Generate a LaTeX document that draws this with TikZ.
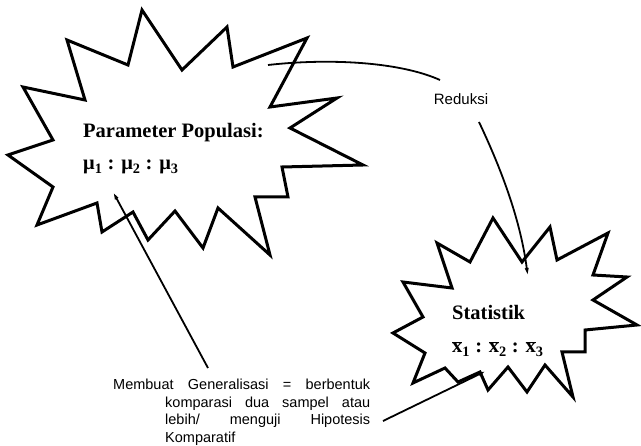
\documentclass[tikz,border=0pt]{standalone}
\usepackage{fontspec}
\setmainfont{Liberation Serif}
\setsansfont{Liberation Sans}
\usetikzlibrary{arrows.meta}
\begin{document}
\begin{tikzpicture}[x=1pt,y=-1pt,
  starline/.style={draw=black,line width=3pt,line join=miter},
  conn/.style={draw=black,line width=1.8pt},
  tip/.style={-{Latex[length=10pt,width=4pt]}},
  serifbig/.style={font=\bfseries\fontsize{20.5}{24}\selectfont,inner sep=0pt,anchor=base west},
  sanslbl/.style={font=\sffamily\fontsize{15}{18}\selectfont,inner sep=0pt}]
\useasboundingbox[fill=white] (0,0) rectangle (641,446);
% big star
\draw[starline] (142,10) -- (182,70) -- (227,27) -- (233,67) -- (307,38) -- (270,107) -- (337,98) -- (290,128) -- (363,165) -- (282,167) -- (288,197) -- (255,197) -- (270,255) -- (218,208) -- (203,248) -- (175,211) -- (148,240) -- (133,212) -- (102,232) -- (97,203) -- (37,225) -- (53,187) -- (8,155) -- (53,140) -- (23,87) -- (85,100) -- (67,40) -- (128,65) -- cycle;
% small star
\draw[starline] (493,218) -- (522,262) -- (550,227) -- (557,260) -- (608,233) -- (593,275) -- (627,277) -- (593,300) -- (637,325) -- (585,330) -- (585,352) -- (562,352) -- (573,397) -- (545,365) -- (527,392) -- (508,367) -- (488,390) -- (480,372) -- (458,382) -- (445,368) -- (413,383) -- (425,353) -- (393,333) -- (423,317) -- (403,282) -- (452,288) -- (437,243) -- (470,262) -- cycle;
% texts
\node[serifbig] (param) at (83,138) {Parameter Populasi:};
\node[serifbig] (mu) at (83,170) {μ\textsubscript{1} : μ\textsubscript{2} : μ\textsubscript{3}};
\node[serifbig] (stat) at (452,320) {Statistik};
\node[serifbig] (xbar) at (452,353) {$\overline{\hbox{\bfseries x}}$\textsubscript{1} : $\overline{\hbox{\bfseries x}}$\textsubscript{2} : $\overline{\hbox{\bfseries x}}$\textsubscript{3}};
\node[sanslbl] (red) at (461,99) {Reduksi};
\node[sanslbl,anchor=north west] (gen) at (113,379) {\parbox[t]{257pt}{\fontsize{14.5}{17.6}\selectfont\hangindent=52pt\hangafter=1\noindent\hbadness=10000
Membuat Generalisasi = berbentuk\linebreak komparasi dua sampel atau\linebreak lebih/ menguji Hipotesis\linebreak Komparatif}};
% connectors
\coordinate (r0) at (268,65);
\coordinate (r1) at (440,80);
\coordinate (r2) at (479,122);
\coordinate (r3) at (528,278);
\coordinate (g0) at (208,368);
\coordinate (g1) at (112,190);
\coordinate (h0) at (383,421);
\coordinate (h1) at (488,370);
\draw[conn] (r0) .. controls (330,58) and (400,62) .. (r1);
\draw[conn,tip] (r2) .. controls (497,160) and (520,215) .. (r3);
\draw[conn,tip] (g0) -- (g1);
\draw[conn,tip] (h0) -- (h1);
\end{tikzpicture}
\end{document}
